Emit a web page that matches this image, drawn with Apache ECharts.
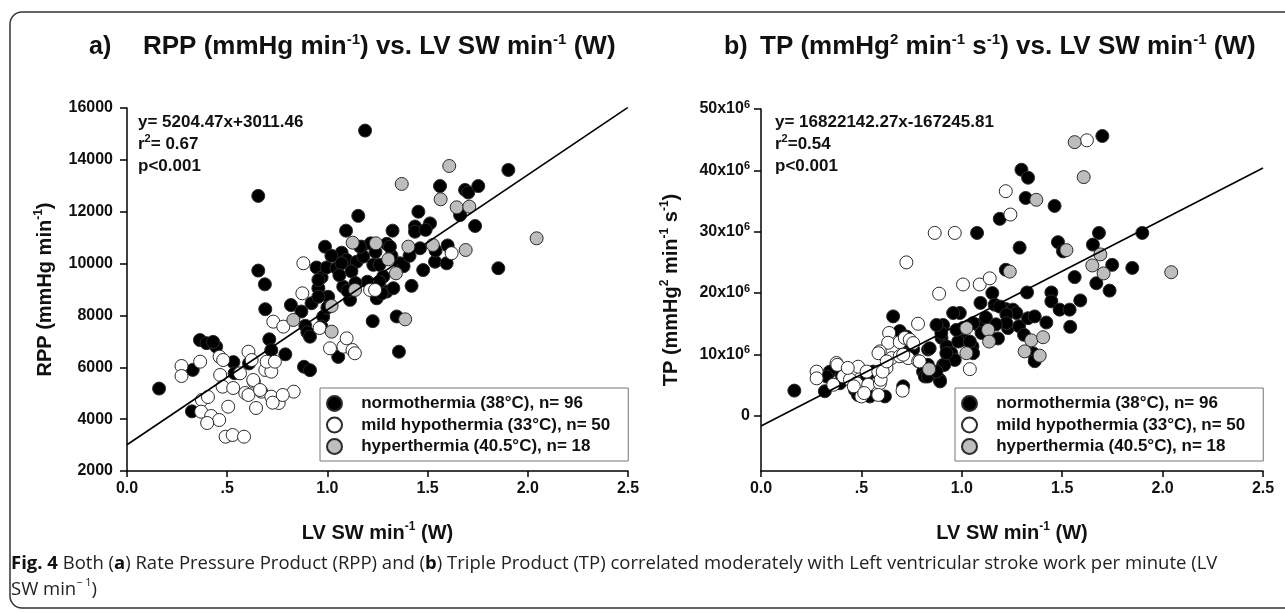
<!DOCTYPE html>
<html>
<head>
<meta charset="utf-8">
<script src="https://cdn.jsdelivr.net/npm/echarts@6/dist/echarts.min.js"></script>
<style>html,body{margin:0;padding:0;background:#fff}#c{width:1285px;height:613px}</style>
</head>
<body>
<div id="c"></div>
<script>
// ---------- data ----------
const SERIES_NAMES = ['normothermia (38°C), n= 96', 'mild hypothermia (33°C), n= 50', 'hyperthermia (40.5°C), n= 18'];
const X_TICKS = [0, 0.5, 1, 1.5, 2, 2.5];
const TP_TICKS = [0, 10, 20, 30, 40, 50]; // x10^6

// panel a: LV SW min-1 (W) vs RPP
const RPP_NORMO = [
[0.16,5180],[0.324,4300],[0.328,5900],[0.364,7050],[0.397,6930],[0.445,6800],[0.43,6980],[0.531,6200],[0.537,5770],[0.609,6150],
[0.655,12610],[0.655,9730],[0.688,9200],[0.69,8240],[0.71,7080],[0.72,6660],[0.79,6500],[0.818,8400],[0.883,6020],[0.913,5890],
[0.89,7600],[0.90,7350],[0.913,7180],[0.921,8470],[0.955,9050],[0.946,9850],[0.971,9470],[0.988,10650],[0.979,7950],[0.996,9850],
[1.004,8720],[1.046,9820],[1.054,6400],[1.071,10420],[1.079,9110],[1.096,10140],[1.093,11270],[1.113,8600],[1.146,10070],[1.154,11840],
[1.171,10650],[1.179,10270],[1.188,15130],[1.216,10780],[1.229,9950],[1.226,7780],[1.246,8660],[1.279,9500],[1.296,10760],[1.296,8920],
[1.325,11270],[1.329,9050],[1.346,7960],[1.357,6600],[1.420,9140],[1.437,11430],[1.437,11230],[1.454,12000],[1.462,10590],[1.478,9750],
[1.512,11550],[1.537,10070],[1.595,10010],[1.562,12990],[1.662,11870],[1.687,12840],[1.703,12740],[1.737,11450],[1.753,12990],[1.903,13610],
[1.853,9820],[1.07,10010],[1.163,10650],[1.26,9300],[1.362,10010],[1.271,8850],[0.955,9370],[0.955,8720],[0.97,7570],
[1.02,10300],[1.12,9700],[1.20,9300],[1.26,9950],[1.32,10300],[1.14,9250],[1.06,9550],[1.24,10450],[1.38,9900],[1.41,10300],
[1.54,10500],[1.60,10700],[1.312,10650],[1.49,11300],[0.87,8150],[1.00,8300],[1.10,8950]
];
const RPP_MILD = [
[0.272,6050],[0.272,5664],[0.365,6216],[0.374,4740],[0.404,4854],[0.37,4287],[0.42,4121],[0.46,3967],[0.40,3851],[0.462,6408],
[0.48,6281],[0.465,5703],[0.477,5252],[0.505,4480],[0.492,3323],[0.527,3389],[0.584,3323],[0.53,5200],[0.59,5008],[0.606,4931],
[0.644,4430],[0.633,5446],[0.606,6601],[0.622,6280],[0.564,5767],[0.63,5510],[0.67,5060],[0.72,4866],[0.757,4622],[0.832,5060],
[0.69,5896],[0.72,5832],[0.697,6216],[0.738,6217],[0.730,7760],[0.78,7567],[0.875,8853],[0.88,10011],[0.961,7515],[1.013,6732],
[1.08,6795],[1.096,7117],[1.125,6667],[1.137,6540],[1.213,8982],[1.238,8982],[1.62,10400],[0.664,5124],[0.777,4931],[0.727,4635]
];
const RPP_HYPER = [
[1.608,13764],[1.371,13070],[1.565,12479],[1.645,12170],[1.708,12196],[1.126,10807],[1.242,10782],[1.304,10164],[1.404,10653],
[1.526,10717],[1.69,10524],[2.044,10974],[1.342,9624],[1.138,8982],[1.021,8364],[1.388,7850],[1.021,7374],[0.83,7824]
];
const RPP_FIT = { slope: 5204.47, intercept: 3011.46 };
const RPP_STATS = ['y= 5204.47x+3011.46', '= 0.67', 'p<0.001'];

// panel b: LV SW min-1 (W) vs TP (in units of 10^6)
const TP_NORMO = [
[1.70,45.6],[1.297,40.1],[1.33,38.8],[1.318,35.5],[1.462,34.2],[1.189,32.1],[1.076,29.8],[1.288,27.4],[1.479,28.3],[1.504,26.8],
[1.683,29.8],[1.653,27.9],[1.899,29.8],[1.749,24.6],[1.849,24.1],[1.562,22.6],[1.67,21.6],[1.736,20.4],[1.219,23.8],[1.325,20.1],
[1.446,20.1],[1.446,18.65],[1.487,17.3],[1.537,17.3],[1.59,18.8],[1.54,14.5],[1.093,18.4],[1.152,20.0],[1.164,18.1],[1.219,17.4],
[1.255,17.3],[1.272,16.75],[1.23,14.3],[1.285,14.6],[1.33,15.9],[1.363,16.2],[1.421,15.2],[1.081,14.8],[1.098,13.5],[1.053,11.3],
[1.007,12.4],[1.355,10.2],[1.363,8.9],[0.99,16.75],
[1.189,17.8],[1.222,16.5],[1.222,15.1],[0.957,16.75],[0.907,14.8],[0.899,12.7],[0.924,11.3],[0.982,12.1],[1.04,12.1],[1.006,14.3],
[1.056,15.1],[0.948,10.2],[0.965,9.1],[0.907,8.3],[0.89,5.9],[0.807,7.2],[0.816,6.4],[0.832,10.8],[0.658,16.2],[0.741,11.0],
[0.343,7.2],[0.318,4.0],[0.327,6.4],[0.393,5.3],[0.468,4.2],[0.526,6.4],[0.542,3.15],[0.617,3.15],[0.708,4.8],
[0.691,13.8],[0.724,12.1],[0.84,11.0],[0.898,13.5],[0.973,14.0],
[0.166,4.1],[0.401,6.7],[0.483,3.4],[0.831,6.4],[0.831,8.3],[0.892,5.6],[0.913,8.3],[0.923,10.2],[1.056,10.2],
[0.725,12.9],[0.758,10.8],[0.559,7.2],[0.874,14.8],[0.874,7.2],
[1.12,16.0],[1.17,14.9],[1.31,13.2],[1.18,12.6]
];
const TP_MILD = [
[1.623,44.9],[1.219,36.6],[1.242,32.8],[0.865,29.8],[0.965,29.8],[0.724,25.0],[0.887,19.9],[1.006,21.4],[1.089,21.4],[1.139,22.4],
[0.782,15.0],[1.04,7.6],[0.638,13.5],[0.633,11.9],[0.691,12.0],[0.716,12.7],[0.741,12.4],[0.758,11.85],[0.592,10.5],[0.65,9.4],
[0.625,7.8],[0.691,9.7],[0.733,9.4],[0.783,8.9],[0.376,8.6],[0.451,7.5],[0.484,8.0],[0.526,7.2],[0.584,7.2],[0.277,7.2],
[0.277,6.1],[0.41,6.4],[0.443,5.9],[0.476,5.3],[0.534,5.05],[0.592,5.3],[0.5,3.15],[0.584,3.4],[0.705,4.1],[0.36,5.06],
[0.462,4.8],[0.514,3.7],[0.596,5.87],[0.585,10.2],[0.708,9.95],[0.79,8.86],[0.38,8.3],[0.432,7.8],[0.606,7.2],[0.626,8.86]
];
const TP_HYPER = [
[1.562,44.6],[1.607,38.9],[1.371,35.2],[1.521,27.0],[1.239,23.5],[1.65,24.5],[1.706,23.2],[1.69,26.3],[2.043,23.4],
[1.023,14.3],[1.131,14.0],[1.136,12.1],[1.023,10.2],[1.346,12.3],[1.405,12.8],[1.313,10.5],[1.388,9.8],[0.837,7.6]
];
// drawn line as it appears in the figure (intercept about -1.67 x10^6)
const TP_FIT = { slope: 16.82214227, intercept: -1.6724581 };
const TP_STATS = ['y= 16822142.27x-167245.81', '=0.54', 'p<0.001'];

// ---------- chart ----------
const FONT = '"Liberation Sans", Arial, sans-serif';
const CAP_FONT = '"Open Sans", "Liberation Sans", sans-serif';
const chart = echarts.init(document.getElementById('c'), null, { renderer: 'canvas' });

const supRich = (size, supSize, lh) => ({
  t: { fontSize: size, fontWeight: 'bold', fontFamily: FONT, color: '#111', lineHeight: lh },
  s: { fontSize: supSize, fontWeight: 'bold', fontFamily: FONT, color: '#111', verticalAlign: 'top', lineHeight: supSize + 1 }
});

function xAxisCfg(gi) {
  return {
    gridIndex: gi, type: 'value', min: 0, max: 2.5, interval: 0.5,
    axisLine: { show: true, onZero: false, lineStyle: { color: '#000', width: 1.5 } },
    axisTick: { show: true, length: 6, lineStyle: { color: '#000', width: 1.5 } },
    axisLabel: { fontSize: 16, fontWeight: 'bold', fontFamily: FONT, color: '#111', margin: 10,
      formatter: v => (v === 0.5 ? '.5' : v.toFixed(1)) },
    splitLine: { show: false },
    name: '{t|LV SW min}{s|-1}{t| (W)}', nameLocation: 'middle', nameGap: 50,
    nameTextStyle: { rich: supRich(20, 12, 24) }
  };
}

function scatter(name, data, fill, gi) {
  return {
    type: 'scatter', name, data, xAxisIndex: gi, yAxisIndex: gi,
    symbol: 'circle', symbolSize: 13,
    itemStyle: { color: fill, borderColor: '#2b2b2b', borderWidth: 1, opacity: 1 },
    emphasis: { disabled: true }, z: 3
  };
}
function fitLine(fit, gi) {
  return {
    type: 'line', data: [[0, fit.intercept], [2.5, fit.slope * 2.5 + fit.intercept]],
    xAxisIndex: gi, yAxisIndex: gi, symbol: 'none', silent: true,
    lineStyle: { color: '#000', width: 1.6 }, z: 4
  };
}
function legendCfg(left) {
  return {
    data: SERIES_NAMES, orient: 'vertical', left: left, top: 388,
    itemWidth: 15, itemHeight: 15, itemGap: 4.5, padding: [7, 18, 6, 6],
    borderColor: '#777', borderWidth: 1, backgroundColor: '#fff',
    selectedMode: false, icon: 'circle',
    formatter: n => '   ' + n,
    textStyle: { fontSize: 17, fontWeight: 'bold', fontFamily: FONT, color: '#111', lineHeight: 15 }
  };
}
function statsText(x, stats) {
  return {
    type: 'text', left: x, top: 111, z: 10,
    style: {
      text: stats[0] + '\n{t|r}{s|2}{t|' + stats[1] + '}\n' + stats[2],
      fontSize: 17, fontWeight: 'bold', fontFamily: FONT, fill: '#111', lineHeight: 22,
      rich: {
        t: { fontSize: 17, fontWeight: 'bold', fontFamily: FONT, fill: '#111', lineHeight: 22 },
        s: { fontSize: 11, fontWeight: 'bold', fontFamily: FONT, fill: '#111', verticalAlign: 'top', lineHeight: 14 }
      }
    }
  };
}

const titleRich = supRich(26, 15, 30);
const option = {
  backgroundColor: '#fff',
  animation: false,
  title: [
    { text: 'a)', left: 89, top: 32, padding: 0, textStyle: { fontSize: 25, fontWeight: 'bold', fontFamily: FONT, color: '#111', lineHeight: 30 } },
    { text: '{t|RPP (mmHg min}{s|-1}{t|) vs. LV SW min}{s|-1}{t| (W)}', left: 143, top: 32, padding: 0, textStyle: { rich: titleRich } },
    { text: 'b)', left: 724, top: 32, padding: 0, textStyle: { fontSize: 25, fontWeight: 'bold', fontFamily: FONT, color: '#111', lineHeight: 30 } },
    { text: '{t|TP (mmHg}{s|2}{t| min}{s|-1}{t| s}{s|-1}{t|) vs. LV SW min}{s|-1}{t| (W)}', left: 760, top: 32, padding: 0, textStyle: { rich: titleRich } }
  ],
  grid: [
    { left: 127, top: 108, width: 501, height: 363, containLabel: false },
    { left: 761, top: 109, width: 502, height: 362, containLabel: false }
  ],
  xAxis: [xAxisCfg(0), xAxisCfg(1)],
  yAxis: [
    {
      gridIndex: 0, type: 'value', min: 2000, max: 16000, interval: 2000,
      axisLine: { show: true, lineStyle: { color: '#000', width: 1.5 } },
      axisTick: { show: true, length: 7, lineStyle: { color: '#000', width: 1.5 } },
      axisLabel: { fontSize: 16, fontWeight: 'bold', fontFamily: FONT, color: '#111', margin: 14, formatter: v => String(v) },
      splitLine: { show: false },
      name: '{t|RPP (mmHg min}{s|-1}{t|)}', nameLocation: 'middle', nameGap: 70, nameRotate: 90,
      nameTextStyle: { rich: supRich(20, 12, 24) }
    },
    {
      gridIndex: 1, type: 'value', min: -9, max: 50,
      axisLine: { show: true, lineStyle: { color: '#000', width: 1.5 } },
      axisTick: { show: true, length: 7, customValues: TP_TICKS, lineStyle: { color: '#000', width: 1.5 } },
      axisLabel: {
        customValues: TP_TICKS, margin: 11,
        formatter: v => (v === 0 ? '{a|0}' : '{a|' + v + 'x10}{s|6}'),
        rich: {
          a: { fontSize: 16, fontWeight: 'bold', fontFamily: FONT, color: '#111', lineHeight: 20 },
          s: { fontSize: 11, fontWeight: 'bold', fontFamily: FONT, color: '#111', verticalAlign: 'top', lineHeight: 12 }
        }
      },
      splitLine: { show: false },
      name: '{t|TP (mmHg}{s|2}{t| min}{s|-1}{t| s}{s|-1}{t|)}', nameLocation: 'middle', nameGap: 78, nameRotate: 90,
      nameTextStyle: { rich: supRich(20, 12, 24) }
    }
  ],
  legend: [legendCfg(320), legendCfg(955)],
  series: [
    scatter(SERIES_NAMES[0], RPP_NORMO, '#000', 0),
    scatter(SERIES_NAMES[1], RPP_MILD, '#fff', 0),
    scatter(SERIES_NAMES[2], RPP_HYPER, '#bdbdbd', 0),
    fitLine(RPP_FIT, 0),
    scatter(SERIES_NAMES[0], TP_NORMO, '#000', 1),
    scatter(SERIES_NAMES[1], TP_MILD, '#fff', 1),
    scatter(SERIES_NAMES[2], TP_HYPER, '#bdbdbd', 1),
    fitLine(TP_FIT, 1)
  ],
  graphic: [
    { type: 'rect', shape: { x: 10, y: 12, width: 1300, height: 596, r: 12 }, style: { fill: 'none', stroke: '#333', lineWidth: 1.5 }, z: 0, silent: true },
    statsText(138, RPP_STATS),
    statsText(775, TP_STATS),
    {
      type: 'text', left: 11, top: 551, z: 10,
      style: {
        text: '{b|Fig. 4} Both ({b|a}) Rate Pressure Product (RPP) and ({b|b}) Triple Product (TP) correlated moderately with Left ventricular stroke work per minute (LV\nSW min{s|− 1})',
        fontSize: 18.5, fontFamily: CAP_FONT, fill: '#222', lineHeight: 26,
        rich: {
          b: { fontSize: 18.5, fontWeight: 'bold', fontFamily: CAP_FONT, fill: '#111', lineHeight: 26 },
          s: { fontSize: 11, fontFamily: CAP_FONT, fill: '#222', verticalAlign: 'top', lineHeight: 15 }
        }
      }
    }
  ]
};
chart.setOption(option);
</script>
</body>
</html>
